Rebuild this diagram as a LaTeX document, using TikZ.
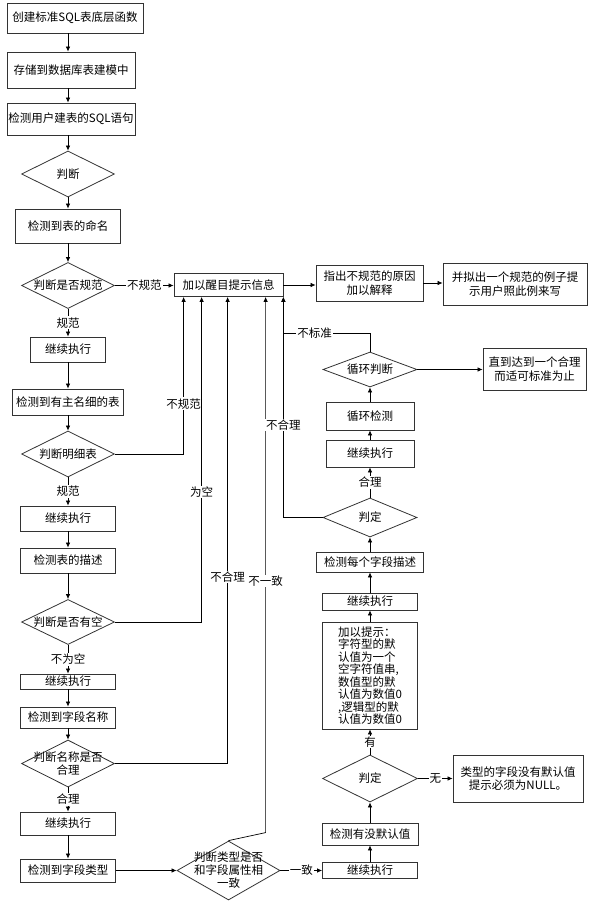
\documentclass[tikz,border=0pt]{standalone}
\usepackage{fontspec}
\setmainfont{Noto Sans CJK SC}
\usetikzlibrary{shapes.geometric,arrows.meta}

\begin{document}
\begin{tikzpicture}[x=1pt, y=-1pt]
    % Define styles
    \tikzset{
        proc/.style={
            draw=black!80,
            line width=0.8pt,
            rectangle,
            minimum width=95pt,
            inner sep=1pt,
            align=center,
            font=\fontsize{11.5}{13.5}\selectfont
        },
        dec/.style={
            draw=black!80,
            line width=0.8pt,
            diamond,
            inner sep=0pt,
            minimum width=93pt,
            minimum height=46pt,
            label={[align=center, font=\fontsize{11.5}{13}\selectfont]center:#1}
        },
        lbl/.style={
            fill=white,
            inner sep=1pt,
            font=\fontsize{11.5}{13}\selectfont
        },
        arr/.style={
            -{Latex[length=5pt,width=4.5pt]},
            line width=0.7pt
        }
    }
    \useasboundingbox (0,0) rectangle (590,904);

    % Left column
    \coordinate (spine) at (68,0);
    \node[proc, minimum width=136pt, minimum height=30pt] (b1) at (75,18) {创建标准SQL表底层函数};
    \node[proc, minimum width=128pt, minimum height=36pt] (b2) at (71,70) {存储到数据库表建模中};
    \node[proc, minimum width=128pt, minimum height=32pt] (b3) at (71,119) {检测用户建表的SQL语句};
    \node[dec={判断}] (d1) at (68,174) {};
    \node[proc, minimum width=105pt, minimum height=34pt] (b4) at (68,226) {检测到表的命名};
    \node[dec={判断是否规范}] (d2) at (68,285.5) {};
    \node[proc, minimum width=75pt, minimum height=25pt] (b5) at (68,349.5) {继续执行};
    \node[proc, minimum width=111pt, minimum height=26pt] (b6) at (68,402) {检测到有主名细的表};
    \node[dec={判断明细表}] (d3) at (68,454) {};
    \node[proc, minimum height=25pt] (b7) at (68,518.5) {继续执行};
    \node[proc, minimum height=25pt] (b8) at (68,560.5) {检测表的描述};
    \node[dec={判断是否有空}, minimum height=45pt] (d4) at (68,622) {};
    \node[proc, minimum height=15pt] (b9) at (68,681.5) {继续执行};
    \node[proc, minimum height=21pt] (b10) at (68,717.5) {检测到字段名称};
    \node[dec={判断名称是否\\合理}, minimum height=47pt] (d5) at (68,763.5) {};
    \node[proc, minimum height=23pt] (b11) at (68,823.5) {继续执行};
    \node[proc, minimum height=23pt] (b12) at (68,870.5) {检测到字段类型};
    \node[dec={判断类型是否\\和字段属性相\\一致}, minimum width=103pt, minimum height=59pt] (d6) at (228.5,870.5) {};

    % Message boxes
    \node[proc, minimum width=109pt, minimum height=23pt] (m0) at (228.5,285) {加以醒目提示信息};
    \node[proc, minimum width=107pt, minimum height=36pt] (m1) at (369.5,283) {指出不规范的原因\\加以解释};
    \node[proc, minimum width=144pt, minimum height=42pt] (m2) at (515,284) {并拟出一个规范的例子提\\示用户照此例来写};

    % Right column
    \node[dec={循环判断}, minimum width=94pt, minimum height=35pt] (r1) at (370,369.5) {};
    \node[proc, minimum width=103pt, minimum height=42pt] (r0) at (534.5,369) {直到达到一个合理\\而适可标准为止};
    \node[proc, minimum width=88pt, minimum height=28pt] (r2) at (370,416) {循环检测};
    \node[proc, minimum width=88pt, minimum height=27pt] (r3) at (370,453.5) {继续执行};
    \node[dec={判定}, minimum width=94pt, minimum height=39pt] (r4) at (370,517.5) {};
    \node[proc, minimum width=107pt, minimum height=20pt] (r5) at (370,562) {检测每个字段描述};
    \node[proc, minimum height=17pt] (r6) at (370,601.5) {继续执行};
    \node[proc, minimum height=107pt, align=left, font=\fontsize{11.5}{12.5}\selectfont] (r7) at (370,675.5) {加以提示：\\字符型的默\\认值为一个\\空字符值串,\\数值型的默\\认值为数值0\\,逻辑型的默\\认值为数值0};
    \node[dec={判定}, minimum width=95pt, minimum height=47pt] (r8) at (370,778.5) {};
    \node[proc, minimum width=130pt, minimum height=47pt] (r9) at (518,778.5) {类型的字段没有默认值\\提示必须为NULL。};
    \node[proc, minimum width=96pt, minimum height=22pt] (r10) at (370,834) {检测有没默认值};
    \node[proc, minimum height=16pt] (r11) at (370,870.5) {继续执行};

    % Main flow
    \draw[arr] (b1.south -| spine) -- (b2.north -| spine);
    \draw[arr] (b2.south -| spine) -- (b3.north -| spine);
    \draw[arr] (b3.south -| spine) -- (d1.north);
    \draw[arr] (d1) -- (b4);
    \draw[arr] (b4) -- (d2);
    \draw[arr] (d2) -- node[lbl] {规范} (b5);
    \draw[arr] (b5) -- (b6);
    \draw[arr] (b6) -- (d3);
    \draw[arr] (d3) -- node[lbl] {规范} (b7);
    \draw[arr] (b7) -- (b8);
    \draw[arr] (b8) -- (d4);
    \draw[arr] (d4) -- node[lbl] {不为空} (b9);
    \draw[arr] (b9) -- (b10);
    \draw[arr] (b10) -- (d5);
    \draw[arr] (d5) -- node[lbl] {合理} (b11);
    \draw[arr] (b11) -- (b12);
    \draw[arr] (b12) -- (d6);

    % Back to the message box
    \coordinate (f1) at ([xshift=10pt]m0.south west);
    \coordinate (f2) at ([xshift=28pt]m0.south west);
    \coordinate (f3) at ([xshift=54pt]m0.south west);
    \coordinate (f4) at ([xshift=92pt]m0.south west);
    \coordinate (f5) at (m0.south east);
    \draw[arr] (d2.east) -- node[lbl] {不规范} (d2.east -| m0.west);
    \draw[arr] (d3.east) -| node[lbl, pos=0.66] {不规范} (f1);
    \draw[arr] (d4.east) -| node[lbl, pos=0.7] {为空} (f2);
    \draw[arr] (d5.east) -| node[lbl, pos=0.7] {不合理} (f3);
    \draw[arr] (d6.north) -- ([yshift=8pt]d6.north -| f4) -- node[lbl, pos=0.47] {不一致} (f4);
    \draw[arr] (r4.west) -| node[lbl, pos=0.71] {不合理} (f5);
    \draw[arr] (r1.north) -- ++(0,-18) -| node[lbl, pos=0.32] {不标准} (f5);

    % Message chain
    \draw[arr] (m0.east) -- (m0.east -| m1.west);
    \draw[arr] (m1.east) -- (m1.east -| m2.west);

    % Right column, bottom to top
    \draw[arr] (d6.east) -- node[lbl] {一致} (d6.east -| r11.west);
    \draw[arr] (r11) -- (r10);
    \draw[arr] (r10) -- (r8);
    \draw[arr] (r8.east) -- node[lbl] {无} (r8.east -| r9.west);
    \draw[arr] (r8) -- node[lbl] {有} (r7);
    \draw[arr] (r7) -- (r6);
    \draw[arr] (r6) -- (r5);
    \draw[arr] (r5) -- (r4);
    \draw[arr] (r4) -- node[lbl] {合理} (r3);
    \draw[arr] (r3) -- (r2);
    \draw[arr] (r2) -- (r1);
    \draw[arr] (r1.east) -- (r1.east -| r0.west);
\end{tikzpicture}
\end{document}
